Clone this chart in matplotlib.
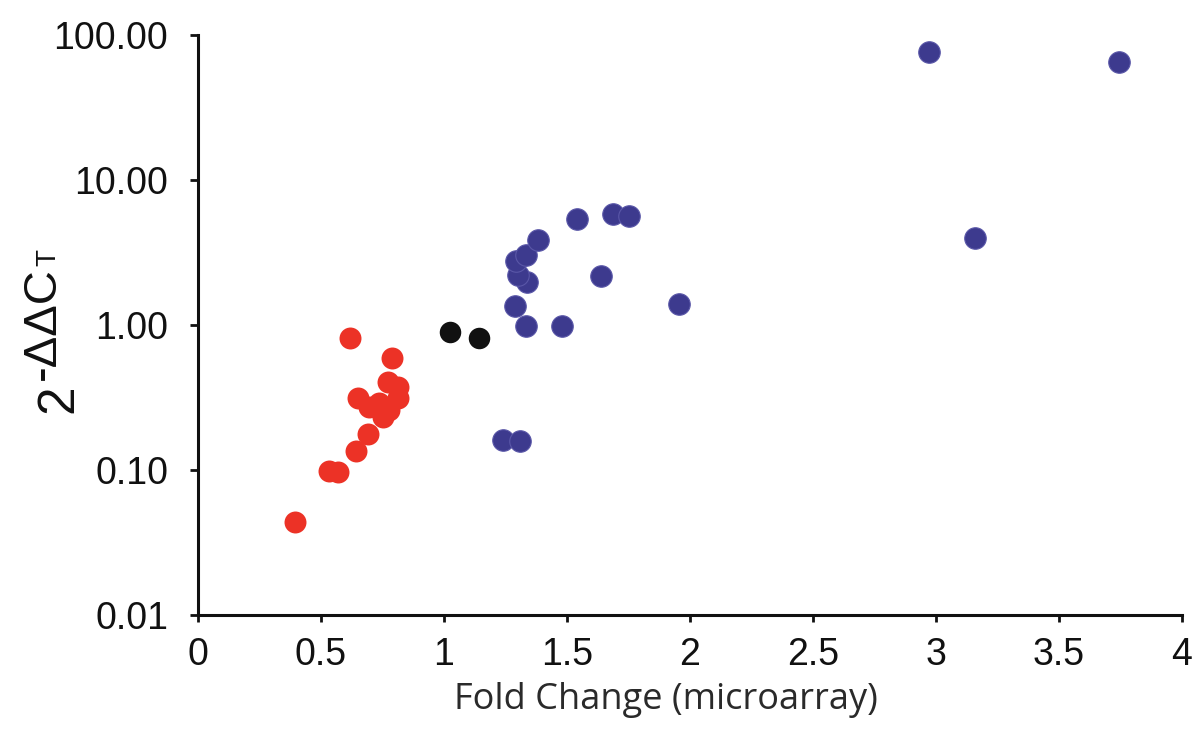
import matplotlib
matplotlib.use("Agg")
import matplotlib.pyplot as plt
from matplotlib.ticker import FixedLocator, FuncFormatter, NullLocator

# data
red_x = [0.398, 0.536, 0.570, 0.642, 0.692, 0.698, 0.739, 0.753, 0.780,
         0.651, 0.813, 0.813, 0.773, 0.792, 0.621]
red_y = [0.044, 0.098, 0.097, 0.135, 0.177, 0.273, 0.288, 0.233, 0.259,
         0.312, 0.312, 0.375, 0.407, 0.589, 0.817]

black_x = [1.027, 1.145]
black_y = [0.895, 0.81]

blue_x = [1.243, 1.312, 1.291, 1.336, 1.482, 1.957, 1.340, 1.304, 1.641,
          1.296, 1.336, 1.385, 1.543, 1.689, 1.754, 3.160, 2.973, 3.744]
blue_y = [0.161, 0.159, 1.35, 0.98, 0.98, 1.40, 1.98, 2.21, 2.18,
          2.76, 3.04, 3.86, 5.38, 5.83, 5.65, 3.98, 76.3, 65.1]

x_ticks = [0, 0.5, 1, 1.5, 2, 2.5, 3, 3.5, 4]
y_ticks = [0.01, 0.1, 1, 10, 100]

plt.rcParams['font.family'] = ['Liberation Sans', 'DejaVu Sans']

fig = plt.figure(figsize=(12, 7.39), dpi=100)
ax = fig.add_axes([0.1646, 0.1678, 0.8204, 0.7848])

ax.scatter(red_x, red_y, s=250, color='#ec3226', linewidths=0, zorder=3)
ax.scatter(black_x, black_y, s=240, color='#111111', linewidths=0, zorder=3)
ax.scatter(blue_x, blue_y, s=240, color='#3d3a8e', edgecolors='#5a57a8',
           linewidths=0.8, zorder=3)

ax.set_yscale('log')
ax.set_xlim(0, 4)
ax.set_ylim(0.01, 100)

ax.xaxis.set_major_locator(FixedLocator(x_ticks))
ax.xaxis.set_major_formatter(FuncFormatter(lambda v, p: '%g' % v))
ax.yaxis.set_major_locator(FixedLocator(y_ticks))
ax.yaxis.set_minor_locator(NullLocator())
ax.yaxis.set_major_formatter(FuncFormatter(lambda v, p: '%.2f' % v))

for s in ['top', 'right']:
    ax.spines[s].set_visible(False)
for s in ['left', 'bottom']:
    ax.spines[s].set_linewidth(2.2)
    ax.spines[s].set_color('#111111')

ax.tick_params(axis='y', length=6, width=2, pad=15, labelsize=27, colors='#111111')
ax.tick_params(axis='x', length=5, width=2, pad=11, labelsize=27, colors='#111111')

ax.set_xlabel('Fold Change (microarray)', fontsize=26, family=['Open Sans', 'DejaVu Sans'],
              color='#2a2a2a')
ax.xaxis.set_label_coords(0.476, -0.115)

# y label 2^-ΔΔC_T built from pieces, rotated
W, H = 1200, 739
lab = dict(transform=fig.transFigure, rotation=90, rotation_mode='anchor',
           ha='left', va='baseline', color='#111111')
fig.text(72 / W, (H - 413) / H, '2', fontsize=37, **lab)
fig.text(55 / W, (H - 380) / H, '-ΔΔC', fontsize=34, **lab)
fig.text(55 / W, (H - 266) / H, 'T', fontsize=20, **lab)

fig.savefig('out.png', dpi=100)
